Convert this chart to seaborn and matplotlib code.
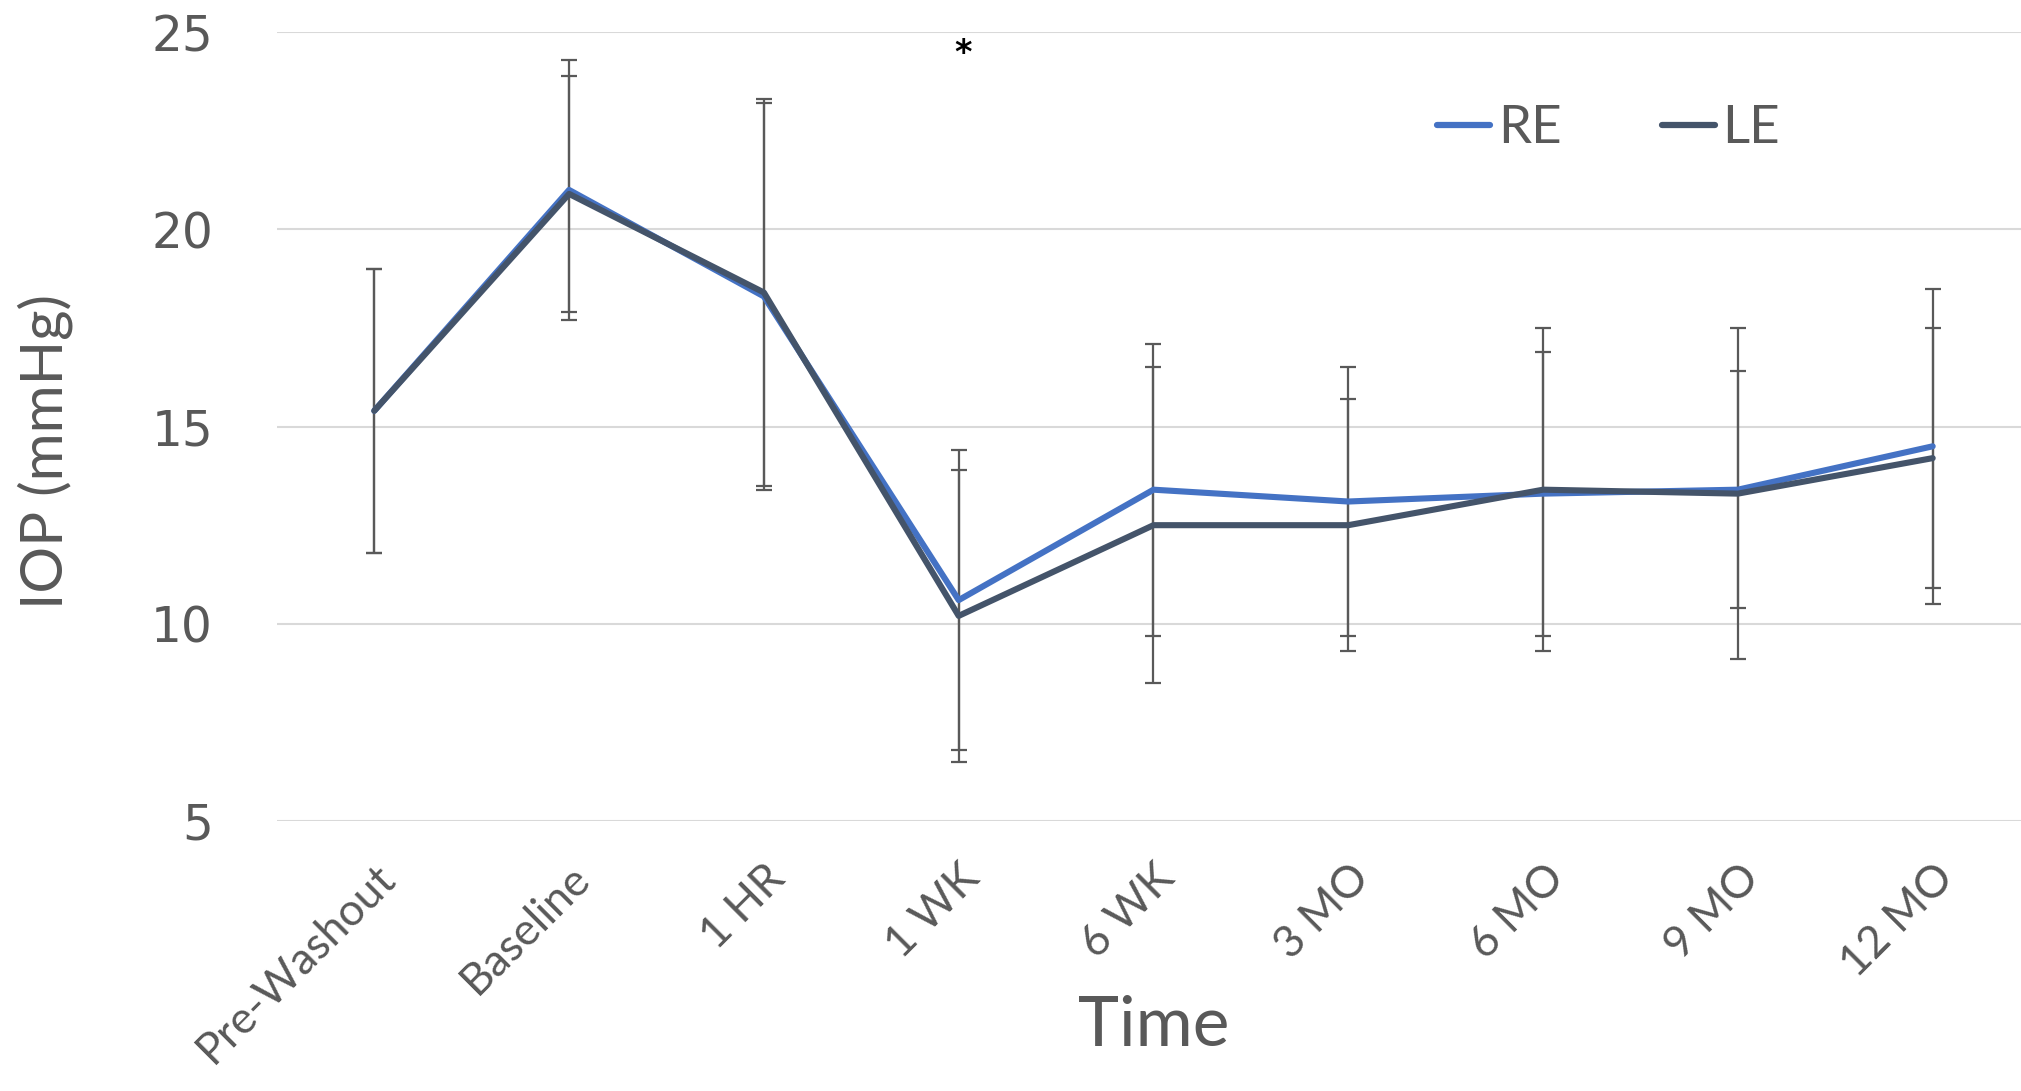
import pandas as pd
import matplotlib
matplotlib.use("Agg")
import matplotlib.pyplot as plt
import seaborn as sns

time_points = ["Pre-Washout", "Baseline", "1 HR", "1 WK", "6 WK", "3 MO", "6 MO", "9 MO", "12 MO"]
re_iop = [15.4, 21.0, 18.3, 10.6, 13.4, 13.1, 13.3, 13.4, 14.5]
le_iop = [15.4, 20.9, 18.4, 10.2, 12.5, 12.5, 13.4, 13.3, 14.2]
re_sd = [3.6, 3.3, 4.9, 3.8, 3.7, 3.4, 3.6, 3.0, 4.0]
le_sd = [3.6, 3.0, 4.9, 3.7, 4.0, 3.2, 4.1, 4.2, 3.3]
star_at = "1 WK"
star_y = 24.45

TEXT = "#595959"
GRID = "#D9D9D9"
colors = {"RE": "#4472C4", "LE": "#44546A"}

df = pd.concat([
    pd.DataFrame({"time": time_points, "iop": re_iop, "eye": "RE"}),
    pd.DataFrame({"time": time_points, "iop": le_iop, "eye": "LE"}),
])

sns.set_style("white")
plt.rcParams["font.family"] = ["Lato", "DejaVu Sans"]

fig = plt.figure(figsize=(20.21, 10.91), dpi=100)
ax = fig.add_axes([0.137, 0.2475, 0.8675, 0.723])

# error bars first so the lines sit on top
for vals, sd in [(re_iop, re_sd), (le_iop, le_sd)]:
    ax.errorbar(time_points, vals, yerr=sd, fmt="none", ecolor=TEXT,
                elinewidth=1.6, capsize=6, capthick=1.6, zorder=2)

sns.lineplot(data=df, x="time", y="iop", hue="eye", palette=colors,
             linewidth=4.4, sort=False, ax=ax, zorder=3)

ax.set_xlim(-0.5, 8.5)
ax.set_ylim(5, 25)
ax.set_yticks([5, 10, 15, 20, 25])
ax.yaxis.grid(True, color=GRID, linewidth=1.5)
ax.set_axisbelow(True)
for s in ax.spines.values():
    s.set_visible(False)

ax.tick_params(axis="y", length=0, pad=46, labelsize=35, labelcolor=TEXT)
for lbl in ax.get_yticklabels():
    lbl.set_fontfamily("DejaVu Sans")
ax.tick_params(axis="x", length=0, pad=26, labelsize=32, labelcolor=TEXT)
plt.setp(ax.get_xticklabels(), rotation=45, ha="right", rotation_mode="anchor")

ax.set_xlabel("Time", fontsize=50, color=TEXT, va="center")
ax.xaxis.set_label_coords(0.5, -0.261)
ax.set_ylabel("IOP (mmHg)", fontsize=42, color=TEXT, va="center")
ax.yaxis.set_label_coords(-0.132, 0.469)

# significance marker above 1 WK
ax.text(time_points.index(star_at) + 0.02, star_y, "*", fontsize=24, color="black",
        ha="center", va="center", fontweight="bold", family="DejaVu Sans")

leg = ax.legend(title=None, ncol=2, frameon=False, fontsize=38, loc="center",
                bbox_to_anchor=(0.796, 0.882), bbox_transform=fig.transFigure,
                handlelength=1.0, handletextpad=0.15, columnspacing=1.9,
                labelcolor=TEXT)
for h in leg.get_lines():
    h.set_linewidth(4.5)
    h.set_solid_capstyle("round")

fig.savefig("out.png", dpi=100)
